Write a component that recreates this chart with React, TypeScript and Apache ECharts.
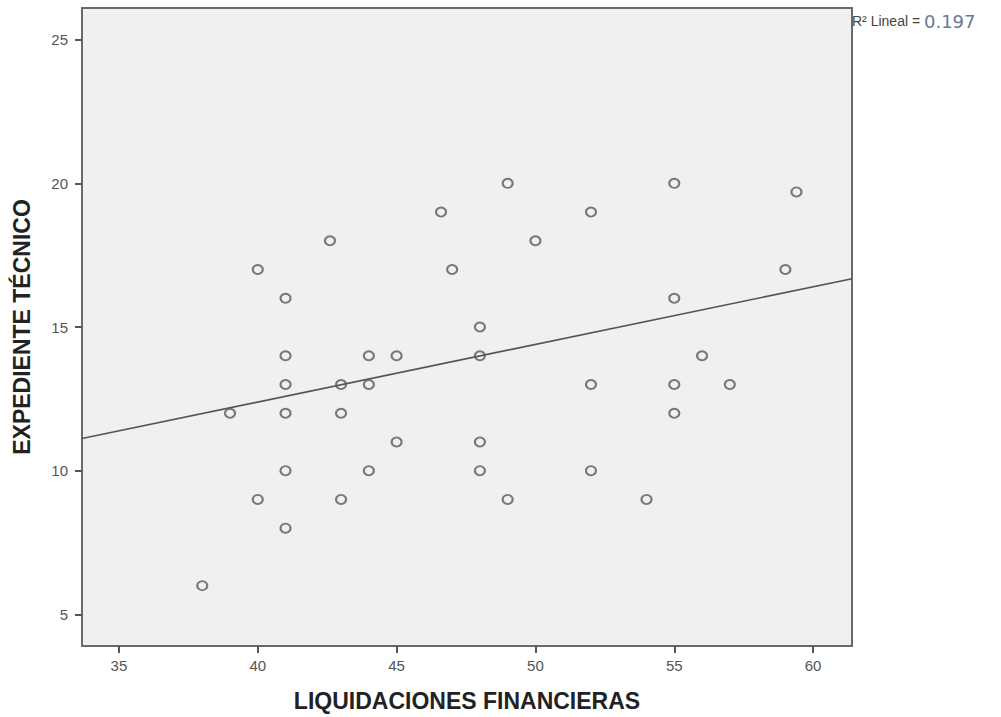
import React, { useEffect, useRef } from "react";
import * as echarts from "echarts";

const liquidaciones = [
  38, 40, 40, 39, 41, 41, 41, 41, 41, 41, 42.6, 43, 43, 43, 44, 44, 44, 45, 45, 46.6,
  47, 48, 48, 48, 48, 49, 49, 50, 52, 52, 52, 54, 55, 55, 55, 55, 56, 57, 59, 59.4,
];
const expediente = [
  6, 9, 17, 12, 16, 14, 13, 12, 10, 8, 18, 13, 12, 9, 14, 13, 10, 14, 11, 19,
  17, 15, 14, 11, 10, 20, 9, 18, 19, 13, 10, 9, 20, 16, 13, 12, 14, 13, 17, 19.7,
];
const fitX = [33.67, 61.4];
const fitY = [11.12, 16.68];
const xTicks = [35, 40, 45, 50, 55, 60];
const yTicks = [5, 10, 15, 20, 25];
const xRange = [33.67, 61.4];
const yRange = [3.9, 26.1];
const r2Label = "R² Lineal = ";
const r2Value = "0.197";

export default function App() {
  const ref = useRef<HTMLDivElement>(null);
  useEffect(() => {
    document.body.style.margin = "0";
    const chart = echarts.init(ref.current!, null, { renderer: "svg" });
    const tickColor = "#555";
    chart.setOption({
      animation: false,
      backgroundColor: "#ffffff",
      grid: {
        left: 82,
        top: 8,
        width: 770,
        height: 642,
        show: true,
        backgroundColor: "#f0f0f0",
        borderColor: "#6a6a6a",
        borderWidth: 2,
      },
      xAxis: {
        type: "value",
        min: xRange[0],
        max: xRange[1],
        name: "LIQUIDACIONES FINANCIERAS",
        nameLocation: "middle",
        nameGap: 43,
        nameTextStyle: { fontFamily: "Liberation Sans", fontWeight: "bold", fontSize: 23, color: "#222" },
        axisLine: { show: true, onZero: false, lineStyle: { color: "#6a6a6a", width: 2 } },
        axisTick: { show: true, customValues: xTicks, length: 7, lineStyle: { color: tickColor, width: 2 } },
        axisLabel: {
          customValues: xTicks,
          color: tickColor,
          fontSize: 15,
          fontFamily: "Liberation Sans",
          margin: 12,
        },
        splitLine: { show: false },
      },
      yAxis: {
        type: "value",
        min: yRange[0],
        max: yRange[1],
        name: "EXPEDIENTE TÉCNICO",
        nameLocation: "middle",
        nameGap: 49,
        nameRotate: 90,
        nameTextStyle: { fontFamily: "Liberation Sans", fontWeight: "bold", fontSize: 23, color: "#222" },
        axisLine: { show: true, onZero: false, lineStyle: { color: "#6a6a6a", width: 2 } },
        axisTick: { show: true, customValues: yTicks, length: 7, lineStyle: { color: tickColor, width: 2 } },
        axisLabel: {
          customValues: yTicks,
          color: tickColor,
          fontSize: 15,
          fontFamily: "Liberation Sans",
          margin: 14,
        },
        splitLine: { show: false },
      },
      graphic: [
        {
          type: "text",
          left: 852,
          top: 12,
          style: {
            text: `{a|${r2Label}}{b|${r2Value}}`,
            rich: {
              a: { fontFamily: "Liberation Sans", fontSize: 14, fill: "#444" },
              b: { fontFamily: "DejaVu Sans", fontSize: 18, fill: "#6a7898" },
            },
          },
        },
      ],
      series: [
        {
          type: "line",
          data: fitX.map((x, i) => [x, fitY[i]]),
          showSymbol: false,
          symbol: "none",
          lineStyle: { color: "#555", width: 1.6 },
          z: 2,
        },
        {
          type: "scatter",
          data: liquidaciones.map((x, i) => [x, expediente[i]]),
          symbol: "circle",
          symbolSize: [10, 9],
          itemStyle: { color: "rgba(0,0,0,0)", borderColor: "#5a5a5a", borderWidth: 2 },
          z: 3,
        },
      ],
    });
    return () => chart.dispose();
  }, []);
  return <div ref={ref} style={{ width: 1001, height: 717 }} />;
}
